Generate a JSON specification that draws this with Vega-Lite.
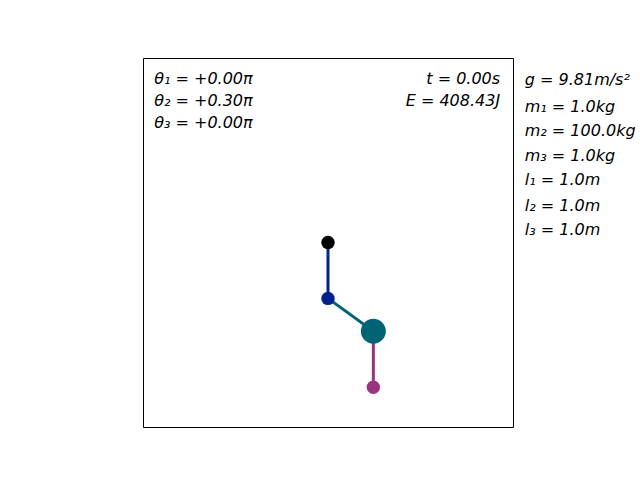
{
  "$schema": "https://vega.github.io/schema/vega-lite/v6.json",
  "width": 370,
  "height": 369,
  "autosize": {"type": "none"},
  "padding": {"left": 143, "top": 58, "right": 127, "bottom": 53},
  "background": "white",
  "config": {"view": {"stroke": "black", "strokeWidth": 1}},
  "datasets": {
    "segs": [
      {"seg": "1", "c": "#00208a", "x": 0, "y": 0},
      {"seg": "1", "c": "#00208a", "x": 0, "y": -1},
      {"seg": "2", "c": "#006474", "x": 0, "y": -1},
      {"seg": "2", "c": "#006474", "x": 0.809, "y": -1.588},
      {"seg": "3", "c": "#9c3381", "x": 0.809, "y": -1.588},
      {"seg": "3", "c": "#9c3381", "x": 0.809, "y": -2.588}
    ],
    "masses": [
      {"name": "p", "c": "#000000", "x": 0, "y": 0, "s": 180},
      {"name": "m1", "c": "#00208a", "x": 0, "y": -1, "s": 180},
      {"name": "m2", "c": "#006474", "x": 0.809, "y": -1.588, "s": 620},
      {"name": "m3", "c": "#9c3381", "x": 0.809, "y": -2.588, "s": 180}
    ],
    "left": [
      {"t": "θ₁ = +0.00π", "x": -3.1, "y": 2.92},
      {"t": "θ₂ = +0.30π", "x": -3.1, "y": 2.53},
      {"t": "θ₃ = +0.00π", "x": -3.1, "y": 2.14},
      {"t": "g = 9.81m/s²", "x": 3.51, "y": 2.9},
      {"t": "m₁ = 1.0kg", "x": 3.51, "y": 2.43},
      {"t": "m₂ = 100.0kg", "x": 3.51, "y": 2.0},
      {"t": "m₃ = 1.0kg", "x": 3.51, "y": 1.55},
      {"t": "l₁ = 1.0m", "x": 3.51, "y": 1.11},
      {"t": "l₂ = 1.0m", "x": 3.51, "y": 0.66},
      {"t": "l₃ = 1.0m", "x": 3.51, "y": 0.23}
    ],
    "right": [
      {"t": "t = 0.00s", "x": 3.07, "y": 2.92},
      {"t": "E = 408.43J", "x": 3.07, "y": 2.53}
    ]
  },
  "encoding": {
    "x": {"field": "x", "type": "quantitative", "scale": {"domain": [-3.3, 3.3], "nice": false, "zero": false}, "axis": null},
    "y": {"field": "y", "type": "quantitative", "scale": {"domain": [-3.3, 3.3], "nice": false, "zero": false}, "axis": null}
  },
  "layer": [
    {
      "data": {"name": "segs"},
      "mark": {"type": "line", "strokeWidth": 3},
      "encoding": {
        "detail": {"field": "seg"},
        "color": {"field": "c", "type": "nominal", "scale": null}
      }
    },
    {
      "data": {"name": "masses"},
      "mark": {"type": "circle", "opacity": 1},
      "encoding": {
        "size": {"field": "s", "type": "quantitative", "scale": null},
        "color": {"field": "c", "type": "nominal", "scale": null}
      }
    },
    {
      "data": {"name": "left"},
      "mark": {"type": "text", "font": "DejaVu Sans", "fontSize": 16, "baseline": "middle", "align": "left", "clip": false, "fontStyle": "italic"},
      "encoding": {"text": {"field": "t"}}
    },
    {
      "data": {"name": "right"},
      "mark": {"type": "text", "font": "DejaVu Sans", "fontSize": 16, "baseline": "middle", "align": "right", "clip": false, "fontStyle": "italic"},
      "encoding": {"text": {"field": "t"}}
    }
  ]
}
